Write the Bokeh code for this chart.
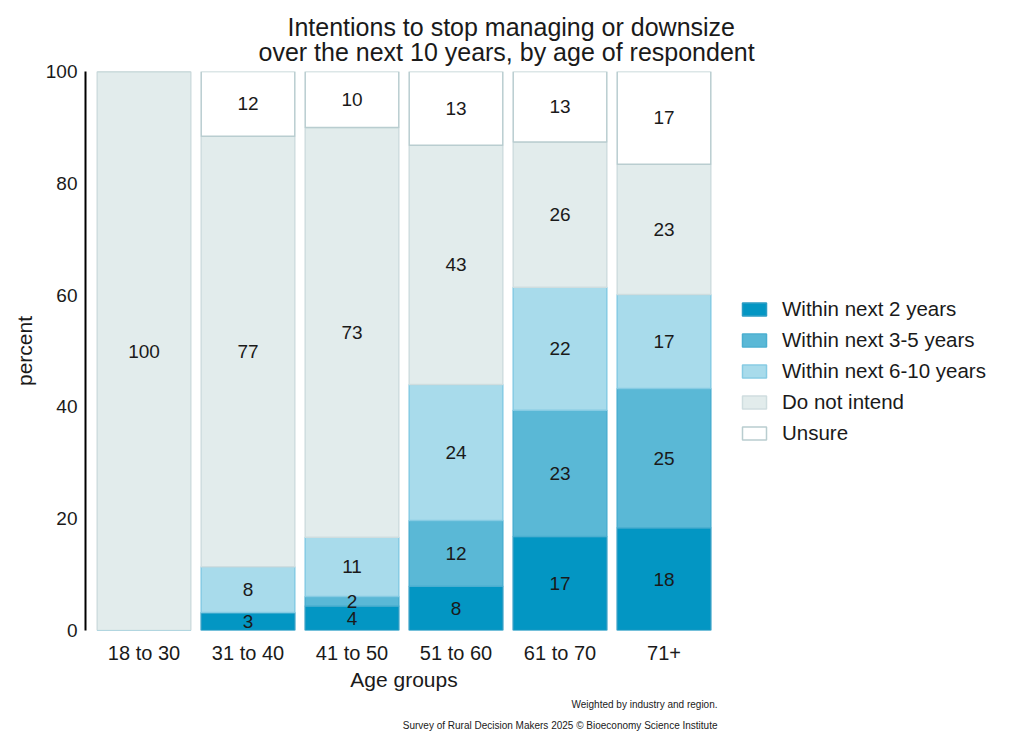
from bokeh.plotting import figure
from bokeh.models import FactorRange, Range1d, Legend, LegendItem, Title, ColumnDataSource
from bokeh.embed import file_html
from bokeh.resources import INLINE
from bokeh.core.properties import value

# ---- data ----
age_groups = ["18 to 30", "31 to 40", "41 to 50", "51 to 60", "61 to 70", "71+"]
series_names = ["Within next 2 years", "Within next 3-5 years", "Within next 6-10 years",
                "Do not intend", "Unsure"]
within_2 = [0.0, 3.2, 4.4, 7.9, 16.8, 18.4]
within_3_5 = [0.0, 0.0, 1.7, 11.8, 22.6, 24.9]
within_6_10 = [0.0, 8.2, 10.6, 24.3, 22.0, 16.8]
do_not_intend = [100.0, 77.0, 73.3, 42.8, 26.0, 23.3]
unsure = [0.0, 11.6, 10.0, 13.2, 12.6, 16.6]
y_ticks = [0, 20, 40, 60, 80, 100]

fill_colors = ["#0396c3", "#5ab8d6", "#a8dbeb", "#e2ecec", "#ffffff"]
line_colors = ["#2a9cc4", "#4aaed0", "#86cbe3", "#cfdddf", "#b9cdd0"]

FONT = "Liberation Sans"

p = figure(x_range=FactorRange(*age_groups, range_padding=0.0625, range_padding_units="absolute"),
           y_range=Range1d(0, 100),
           frame_width=637, frame_height=559,
           min_border_left=85, min_border_right=10, min_border_top=71, min_border_bottom=10,
           output_backend="svg", toolbar_location=None, tools="")

keys = ["w2", "w35", "w610", "dni", "uns"]
data = dict(age=age_groups, w2=within_2, w35=within_3_5, w610=within_6_10,
            dni=do_not_intend, uns=unsure)
src = ColumnDataSource(data)
renderers = p.vbar_stack(keys, x="age", width=0.9, source=src,
                         fill_color=fill_colors, line_color=line_colors, line_width=1.5)

# segment labels
lx, ly, lt = [], [], []
series_vals = [within_2, within_3_5, within_6_10, do_not_intend, unsure]
for i, g in enumerate(age_groups):
    base = 0.0
    for vals in series_vals:
        v = vals[i]
        if v > 0:
            lx.append(g)
            ly.append(base + v / 2)
            lt.append(f"{v:.0f}")
        base += v
p.text(x=lx, y=ly, text=lt, text_align="center", text_baseline="middle",
       text_font=value(FONT), text_font_size="19px", text_color="#1a1a1a")

# axes
p.xgrid.visible = False
p.ygrid.visible = False
p.outline_line_color = None
p.yaxis.ticker = y_ticks
p.yaxis.axis_label = "percent"
p.xaxis.axis_label = "Age groups"
for ax in (p.xaxis[0], p.yaxis[0]):
    ax.major_tick_line_color = None
    ax.minor_tick_line_color = None
    ax.major_label_text_font = FONT
    ax.major_label_text_color = "#1a1a1a"
    ax.axis_label_text_font = FONT
    ax.axis_label_text_font_size = "21px"
    ax.axis_label_text_font_style = "normal"
    ax.axis_label_text_color = "#1a1a1a"
p.xaxis.major_label_text_font_size = "20px"
p.yaxis.major_label_text_font_size = "19px"
p.xaxis.axis_line_color = None
p.yaxis.axis_line_color = "#000000"
p.yaxis.axis_line_width = 2
p.xaxis.major_label_standoff = 5
p.yaxis.major_label_standoff = 2
p.xaxis.axis_label_standoff = 1
p.yaxis.axis_label_standoff = 7

# legend
items = [LegendItem(label=n, renderers=[r]) for n, r in zip(series_names, renderers)]
legend = Legend(items=items, location=(17, 185), orientation="vertical",
                label_text_font=FONT, label_text_font_size="20.5px", label_text_color="#1a1a1a",
                glyph_width=30, glyph_height=16, label_height=20, spacing=7, label_standoff=13,
                border_line_color=None, background_fill_alpha=0, padding=0, margin=0)
p.add_layout(legend, "right")

# notes below (first added sits closest to the plot)
p.add_layout(Title(text="Weighted by industry and region.", offset=5,
                   align="right", text_font=FONT, text_font_size="10px", standoff=6,
                   text_font_style="normal", text_color="#1a1a1a"), "below")
p.add_layout(Title(text="Survey of Rural Decision Makers 2025 \u00a9 Bioeconomy Science Institute",
                   offset=5, align="right", text_font=FONT, text_font_size="10px", standoff=10,
                   text_font_style="normal", text_color="#1a1a1a"), "below")

# two-line title (first added sits closest to the plot)
p.add_layout(Title(text="over the next 10 years, by age of respondent", align="left", offset=173,
                   text_font=FONT, text_font_size="25px", text_font_style="normal",
                   text_color="#1a1a1a", standoff=12), "above")
p.add_layout(Title(text="Intentions to stop managing or downsize", align="left", offset=202,
                   text_font=FONT, text_font_size="25px", text_font_style="normal",
                   text_color="#1a1a1a", standoff=-23), "above")

open("out.html", "w").write(file_html(p, INLINE))
